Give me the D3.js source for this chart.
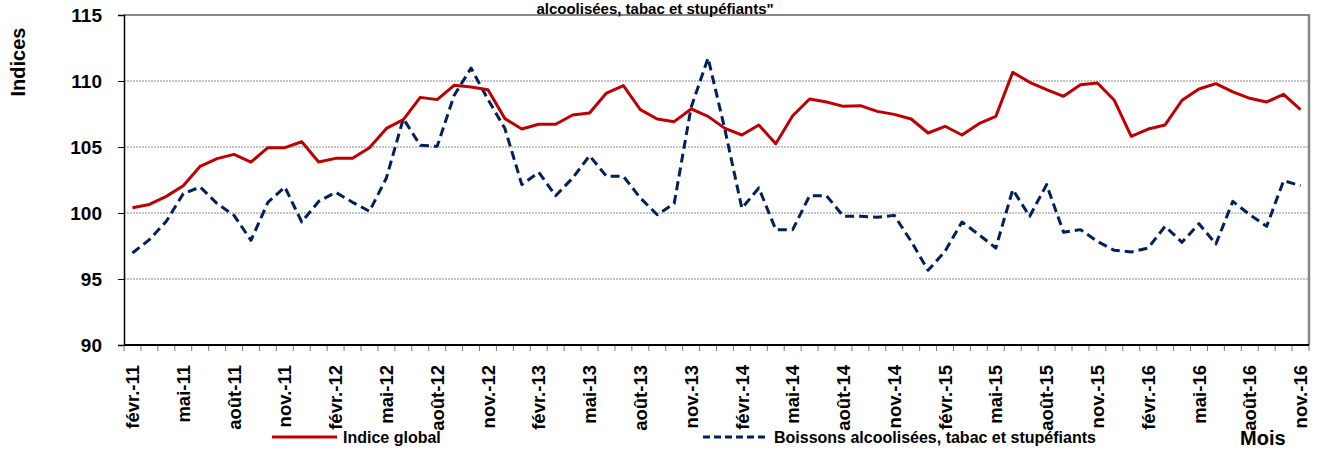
<!DOCTYPE html>
<html>
<head>
<meta charset="utf-8">
<script src="https://cdn.jsdelivr.net/npm/d3@7"></script>
<style>
  body { margin: 0; background: #fff; }
  text { font-family: "Liberation Sans", Arial, sans-serif; font-weight: bold; fill: #000; }
</style>
</head>
<body>
<div id="chart"></div>
<script>
const monthNames = ['janv.', 'févr.', 'mars', 'avr.', 'mai', 'juin', 'juil.', 'août', 'sept.', 'oct.', 'nov.', 'déc.'];
const startYear = 2011, startMonth = 1, monthCount = 70;

const indiceGlobal = [100.4, 100.65, 101.26, 102.07, 103.54, 104.12, 104.44, 103.86, 104.95, 104.95,
  105.4, 103.86, 104.14, 104.14, 104.95, 106.41, 107.07, 108.76, 108.59, 109.67,
  109.55, 109.34, 107.15, 106.36, 106.72, 106.72, 107.42, 107.58, 109.09, 109.65,
  107.83, 107.12, 106.92, 107.88, 107.32, 106.41, 105.91, 106.67, 105.25, 107.37,
  108.64, 108.41, 108.08, 108.13, 107.7, 107.47, 107.12, 106.06, 106.57, 105.91,
  106.77, 107.32, 110.66, 109.9, 109.34, 108.84, 109.72, 109.85, 108.54, 105.81,
  106.36, 106.67, 108.54, 109.39, 109.8, 109.17, 108.69, 108.41, 108.99, 107.83];

const boissons = [96.97, 97.98, 99.37, 101.46, 101.97, 100.71, 99.82, 97.93, 100.81, 101.97,
  99.32, 100.88, 101.57, 100.81, 100.13, 102.65, 107.15, 105.13, 105.05, 108.9,
  110.98, 108.6, 106.4, 102.15, 103.08, 101.31, 102.65, 104.34, 102.78, 102.78,
  101.14, 99.87, 100.71, 108.0, 111.74, 106.3, 100.35, 101.9, 98.74, 98.74,
  101.31, 101.31, 99.75, 99.75, 99.67, 99.82, 97.85, 95.66, 97.1, 99.32,
  98.36, 97.35, 101.77, 99.75, 102.15, 98.54, 98.74, 97.85, 97.17, 97.05,
  97.35, 98.99, 97.78, 99.19, 97.65, 100.88, 99.87, 98.99, 102.45, 102.07];

const yTicks = [90, 95, 100, 105, 110, 115];

// month labels "févr.-11" ...
const months = [];
for (let k = 0; k < monthCount; k++) {
  const m = (startMonth + k) % 12;
  const y = startYear + Math.floor((startMonth + k) / 12);
  months.push(monthNames[m] + '-' + String(y).slice(2));
}
const shownLabels = months.filter((d, i) => i % 3 === 0);

const w = 1318, h = 450;
const plotLeft = 124, plotRight = 1309, plotTop = 15, plotBottom = 345;

const svg = d3.select('#chart').append('svg')
  .attr('width', w)
  .attr('height', h);

const xScale = d3.scaleBand().domain(months).range([plotLeft, plotRight]);
const yScale = d3.scaleLinear().domain([90, 115]).range([plotBottom, plotTop]);
const xc = d => xScale(d) + xScale.bandwidth() / 2;

// gridlines
svg.append('g')
  .selectAll('line')
  .data(yTicks.filter(v => v > 90 && v < 115))
  .enter()
  .append('line')
  .attr('x1', plotLeft).attr('x2', plotRight)
  .attr('y1', d => yScale(d)).attr('y2', d => yScale(d))
  .attr('stroke', '#8c8c8c')
  .attr('stroke-width', 1)
  .attr('stroke-dasharray', '2,1');

// plot frame top and right
svg.append('line').attr('x1', plotLeft).attr('x2', plotRight + 1).attr('y1', plotTop).attr('y2', plotTop)
  .attr('stroke', '#888').attr('stroke-width', 2);
svg.append('line').attr('x1', plotRight).attr('x2', plotRight).attr('y1', plotTop).attr('y2', plotBottom)
  .attr('stroke', '#888').attr('stroke-width', 2.5);

// y axis
const yAxis = d3.axisLeft(yScale).tickValues(yTicks).tickSize(6).tickPadding(16);
const gy = svg.append('g').attr('transform', `translate(${plotLeft},0)`).call(yAxis);
gy.select('.domain').attr('stroke', '#000').attr('stroke-width', 1.5);
gy.selectAll('.tick line').attr('stroke', '#000');
gy.selectAll('.tick text').style('font-size', '19px').attr('fill', '#000');

// x axis: ticks on band edges
const gx = svg.append('g');
gx.selectAll('line.tk')
  .data(months.concat(['end']))
  .enter()
  .append('line')
  .attr('class', 'tk')
  .attr('x1', (d, i) => i < monthCount ? xScale(d) : plotRight)
  .attr('x2', (d, i) => i < monthCount ? xScale(d) : plotRight)
  .attr('y1', plotBottom).attr('y2', plotBottom + 6)
  .attr('stroke', '#777');
gx.append('line').attr('x1', plotLeft).attr('x2', plotRight).attr('y1', plotBottom).attr('y2', plotBottom)
  .attr('stroke', '#000').attr('stroke-width', 2);
gx.selectAll('text')
  .data(shownLabels)
  .enter()
  .append('text')
  .attr('transform', d => `translate(${xc(d)},365) rotate(-90)`)
  .attr('dy', '0.36em')
  .attr('text-anchor', 'end')
  .style('font-size', '18.5px')
  .text(d => d);

// lines
const line = d3.line().x((d, i) => xc(months[i])).y(d => yScale(d));
svg.append('path')
  .datum(boissons)
  .attr('d', line)
  .attr('fill', 'none')
  .attr('stroke', '#002060')
  .attr('stroke-width', 3)
  .attr('stroke-dasharray', '9,5')
  .attr('stroke-linejoin', 'round');
svg.append('path')
  .datum(indiceGlobal)
  .attr('d', line)
  .attr('fill', 'none')
  .attr('stroke', '#c00000')
  .attr('stroke-width', 3)
  .attr('stroke-linejoin', 'round');

// title (second line of it; first line falls above the picture)
svg.append('text')
  .attr('x', 655).attr('y', 13.8)
  .attr('text-anchor', 'middle')
  .style('font-size', '15px')
  .text('alcoolisées, tabac et stupéfiants"');

// y label
svg.append('text')
  .attr('transform', 'translate(25,62) rotate(-90)')
  .attr('text-anchor', 'middle')
  .style('font-size', '20px')
  .text('Indices');

// legend
svg.append('line').attr('x1', 272).attr('x2', 337).attr('y1', 437).attr('y2', 437)
  .attr('stroke', '#c00000').attr('stroke-width', 3);
svg.append('text').attr('x', 343).attr('y', 443).style('font-size', '16px').text('Indice global');
svg.append('line').attr('x1', 703).attr('x2', 767).attr('y1', 437).attr('y2', 437)
  .attr('stroke', '#002060').attr('stroke-width', 3).attr('stroke-dasharray', '7,4');
svg.append('text').attr('x', 774).attr('y', 443).style('font-size', '16px')
  .text('Boissons alcoolisées, tabac et stupéfiants');
svg.append('text').attr('x', 1240).attr('y', 445).style('font-size', '20px').text('Mois');
</script>
</body>
</html>
